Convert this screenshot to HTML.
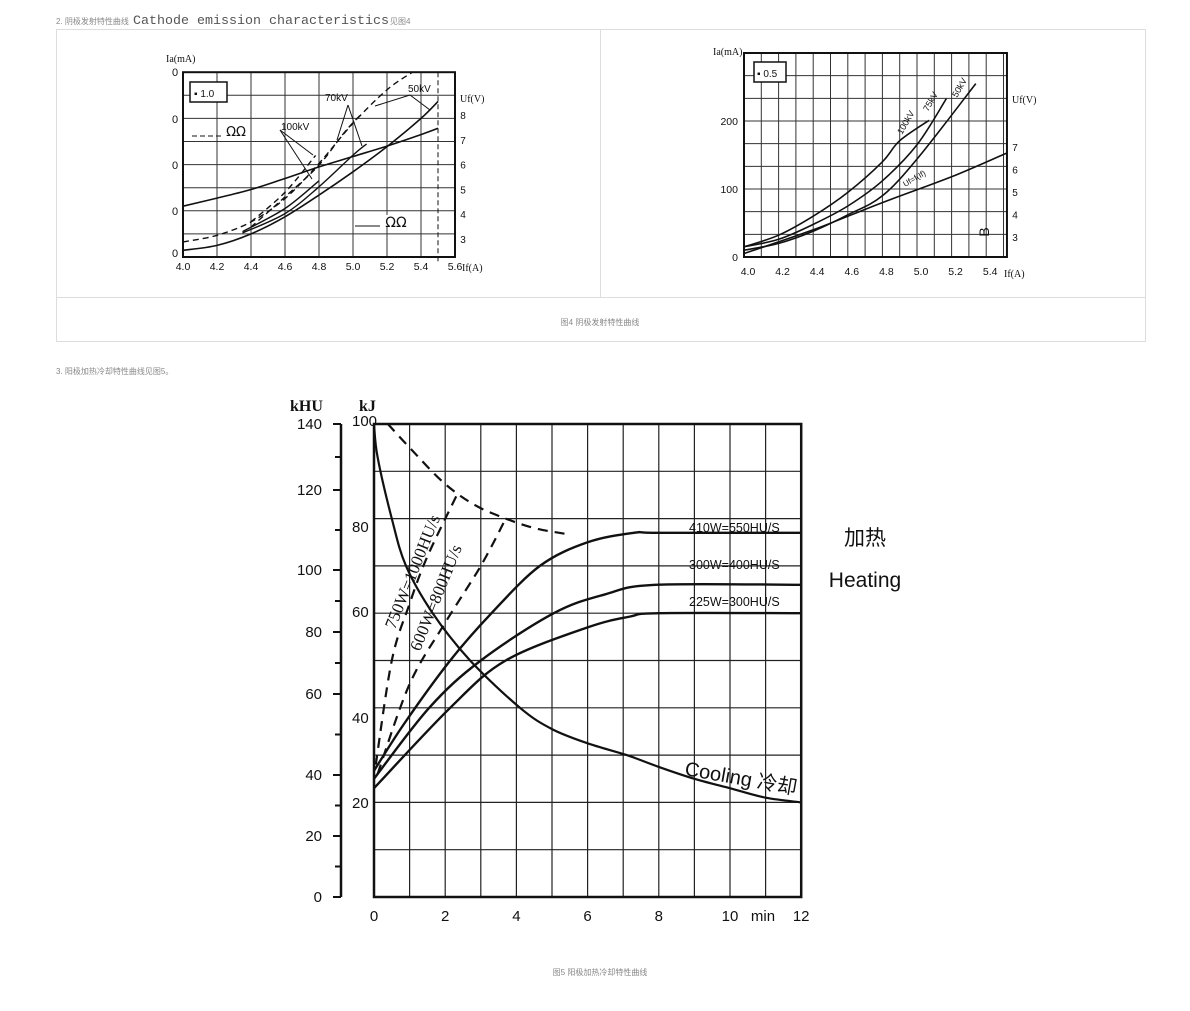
<!DOCTYPE html>
<html><head><meta charset="utf-8">
<style>
html,body{margin:0;padding:0;background:#fff;width:1190px;height:1011px;overflow:hidden;font-family:"Liberation Sans","Noto Sans CJK SC",sans-serif}
svg{position:absolute;left:0;top:0}
</style></head>
<body>
<svg id="s" width="1190" height="1011" viewBox="0 0 1190 1011" xmlns="http://www.w3.org/2000/svg">
<g>
<text x="56" y="24" font-size="8" fill="#888" font-family="Liberation Sans, Noto Sans CJK SC, sans-serif">2.  阴极发射特性曲线</text>
<text x="133" y="24" font-size="13" fill="#555" font-family="Liberation Mono, monospace" textLength="256" lengthAdjust="spacingAndGlyphs">Cathode emission characteristics</text>
<text x="390" y="24" font-size="8" fill="#888" font-family="Liberation Sans, Noto Sans CJK SC, sans-serif">见图4</text>
</g>
<rect x="56.5" y="29.5" width="1089" height="312" fill="none" stroke="#ddd"/>
<line x1="600.5" y1="30" x2="600.5" y2="297" stroke="#ddd"/>
<line x1="56" y1="297.5" x2="1145" y2="297.5" stroke="#ddd"/>
<text x="600" y="325" font-size="8" fill="#888" text-anchor="middle" font-family="Liberation Sans, Noto Sans CJK SC, sans-serif">图4 阴极发射特性曲线</text>
<text x="56" y="374" font-size="8" fill="#888" font-family="Liberation Sans, Noto Sans CJK SC, sans-serif">3.  阳极加热冷却特性曲线见图5。</text>
<text x="600" y="975" font-size="8" fill="#888" text-anchor="middle" font-family="Liberation Sans, Noto Sans CJK SC, sans-serif">图5 阳极加热冷却特性曲线</text>
<g id="c1"></g>
<g id="c2"></g>
<g id="c3"></g>
</svg>
<script>
// ===== Chart 1 data (If in A, y in grid units 0..8) =====
const c1XTicks = [4.0,4.2,4.4,4.6,4.8,5.0,5.2,5.4,5.6];
const c1UfLabels = ["8","7","6","5","4","3"];
const c1Uf_If = [4.0,4.2,4.4,4.6,4.8,5.0,5.2,5.4,5.5];
const c1Uf_y  = [2.2,2.55,2.92,3.4,3.9,4.35,4.8,5.3,5.57];
const c1S50_If = [4.0,4.2,4.4,4.6,4.8,5.0,5.2,5.4,5.5];
const c1S50_y  = [0.29,0.5,1.0,1.74,2.68,3.69,4.78,6.0,6.73];
const c1S70_If = [4.35,4.6,4.8,5.0,5.08];
const c1S70_y  = [1.04,1.88,3.04,4.41,4.89];
const c1S100_If = [4.35,4.6,4.8];
const c1S100_y  = [1.1,2.1,3.3];
const c1D50_If = [4.0,4.2,4.4,4.6,4.8,5.0,5.2,5.35];
const c1D50_y  = [0.65,0.94,1.52,2.53,4.05,5.79,7.24,8.0];
const c1D70_If = [4.4,4.6,4.8,4.95,5.05];
const c1D70_y  = [1.3,2.6,3.98,5.4,6.2];
const c1D100_If = [4.4,4.6,4.78];
const c1D100_y  = [1.52,2.8,4.4];

// ===== Chart 2 data (If in A, Ia in mA) =====
const c2XTicks = [4.0,4.2,4.4,4.6,4.8,5.0,5.2,5.4];
const c2YTicks = [0,100,200];
const c2UfLabels = ["7","6","5","4","3"];
const c2K100_If = [4.0,4.2,4.4,4.6,4.8,4.9,5.07];
const c2K100_Ia = [15,32,60,95,140,171,201];
const c2K75_If = [4.0,4.2,4.4,4.6,4.8,5.0,5.17];
const c2K75_Ia = [15,26,48,75,112,165,233];
const c2K50_If = [4.0,4.2,4.4,4.6,4.8,5.01,5.34];
const c2K50_Ia = [10,20,38,62,90,147,255];
const c2Uf_If = [4.0,4.4,4.8,5.2,5.52];
const c2Uf_Ia = [5,40,80,118,153];

// ===== Chart 3 data (t in min, energy in kJ) =====
const c3XTicks = [0,2,4,6,8,10,12];
const c3kJTicks = [100,80,60,40,20];
const c3kHUTicks = [140,120,100,80,60,40,20,0];
const coolT  = [0,0.1,0.5,0.9,1.65,2.7,4.1,5,6,7.1,8,9,10,11,12];
const coolKJ = [100,93,80,70,60,50,40,35.5,32.5,30,27.5,25,23,21,20];
const h410T  = [0,0.87,2.14,3.3,4.66,6,7.3,8,12];
const h410KJ = [26.7,36.9,50,60,70,75,77,77,77];
const h300T  = [0,1.55,3,5.05,6.5,7.9,12];
const h300KJ = [25,40,50,60,64,66,66];
const h225T  = [0,2.14,3.7,6,7.2,8,12];
const h225KJ = [23,40,50,57,59.3,60,60];
const d750T  = [0.05,0.5,1.0,1.5,2.33];
const d750KJ = [28,50,62,72,85];
const d600T  = [0.1,1.0,2.0,3.0,3.7];
const d600KJ = [26,45,58,70,80];
const dCoolT  = [0.39,1.0,1.94,2.8,3.7,4.5,5.35];
const dCoolKJ = [100,95,87.7,83,80,78,76.8];

const NS="http://www.w3.org/2000/svg";
function mk(parent,tag,attrs){const e=document.createElementNS(NS,tag);for(const k in attrs)e.setAttribute(k,attrs[k]);parent.appendChild(e);return e;}
function txt(parent,x,y,s,size,anchor,extra){const t=mk(parent,'text',Object.assign({x:x,y:y,'font-size':size,'text-anchor':anchor||'start','font-family':'Liberation Sans, Noto Sans CJK SC, sans-serif',fill:'#111'},extra||{}));t.textContent=s;return t;}
function smooth(pts){let d='M'+pts[0][0].toFixed(1)+','+pts[0][1].toFixed(1);for(let i=0;i<pts.length-1;i++){const p0=pts[i-1]||pts[i],p1=pts[i],p2=pts[i+1],p3=pts[i+2]||p2;const c1x=p1[0]+(p2[0]-p0[0])/6,c1y=p1[1]+(p2[1]-p0[1])/6,c2x=p2[0]-(p3[0]-p1[0])/6,c2y=p2[1]-(p3[1]-p1[1])/6;d+=' C'+c1x.toFixed(1)+','+c1y.toFixed(1)+' '+c2x.toFixed(1)+','+c2y.toFixed(1)+' '+p2[0].toFixed(1)+','+p2[1].toFixed(1);}return d;}
function curve(parent,xs,ys,X,Y,w,dash){const pts=xs.map((v,i)=>[X(v),Y(ys[i])]);return mk(parent,'path',{d:smooth(pts),fill:'none',stroke:'#111','stroke-width':w,'stroke-dasharray':dash||'none'});}

// ---------- Chart 1 ----------
(function(){
const g=document.getElementById('c1');
const X=v=>183+(v-4)*170, Y=u=>257-u*23.1;
for(let i=0;i<=8;i++){mk(g,'line',{x1:X(4+i*0.2),y1:Y(0),x2:X(4+i*0.2),y2:Y(8),stroke:'#333','stroke-width':1});}
for(let i=0;i<=8;i++){mk(g,'line',{x1:X(4),y1:Y(i),x2:X(5.6),y2:Y(i),stroke:'#333','stroke-width':1});}
mk(g,'rect',{x:X(4),y:Y(8),width:X(5.6)-X(4),height:Y(0)-Y(8),fill:'none',stroke:'#111','stroke-width':2});
mk(g,'line',{x1:X(5.5),y1:Y(8),x2:X(5.5),y2:Y(0)+6,stroke:'#111','stroke-width':1,'stroke-dasharray':'5,3'});
c1XTicks.forEach(v=>{const t=txt(g,X(v),270,v.toFixed(1),10.5,'middle');});
txt(g,462,271,'If(A)',10,'start',{'font-family':'Liberation Serif, serif'});
txt(g,166,62,'Ia(mA)',10,'start',{'font-family':'Liberation Serif, serif'});
[72,119,165,211,253].forEach(y=>txt(g,175,y+4,'0',11,'middle'));
c1UfLabels.forEach((s,i)=>txt(g,463,119+i*24.8,s,10,'middle'));
txt(g,460,102,'Uf(V)',10,'start',{'font-family':'Liberation Serif, serif'});
const leg=mk(g,'g',{});
mk(leg,'rect',{x:190,y:82,width:37,height:20,fill:'#fff',stroke:'#111','stroke-width':1.5});
txt(leg,194,97,'▪ 1.0',10);
mk(g,'rect',{x:225,y:125,width:24,height:12,fill:'#fff'});
mk(g,'line',{x1:192,y1:136,x2:222,y2:136,stroke:'#111','stroke-dasharray':'5,3'});
txt(g,236,136,'ΩΩ',13,'middle',{'font-family':'DejaVu Sans, sans-serif'});
mk(g,'rect',{x:355,y:215,width:55,height:12,fill:'#fff'});
mk(g,'line',{x1:355,y1:226,x2:380,y2:226,stroke:'#111'});
txt(g,396,227,'ΩΩ',14,'middle',{'font-family':'DejaVu Sans, sans-serif'});
curve(g,c1Uf_If,c1Uf_y,X,Y,1.6);
curve(g,c1S50_If,c1S50_y,X,Y,1.6);
curve(g,c1S70_If,c1S70_y,X,Y,1.4);
curve(g,c1S100_If,c1S100_y,X,Y,1.4);
curve(g,c1D50_If,c1D50_y,X,Y,1.4,'6,4');
curve(g,c1D70_If,c1D70_y,X,Y,1.4,'6,4');
curve(g,c1D100_If,c1D100_y,X,Y,1.4,'6,4');
txt(g,281,130,'100kV',10);txt(g,325,101,'70kV',10);txt(g,408,92,'50kV',10);
[[280,130,313,155],[280,130,312,179],[348,105,337,140],[348,105,362,146],[410,95,375,106],[410,95,430,110]].forEach(a=>mk(g,'line',{x1:a[0],y1:a[1],x2:a[2],y2:a[3],stroke:'#111'}));
})();

// ---------- Chart 2 ----------
(function(){
const g=document.getElementById('c2');
const X=v=>744+(v-4)*173, Y=v=>257-v*0.68;
for(let i=0;i<=15;i++){mk(g,'line',{x1:X(4+i*0.1),y1:Y(0),x2:X(4+i*0.1),y2:Y(300),stroke:'#333','stroke-width':1});}
for(let i=0;i<=9;i++){mk(g,'line',{x1:X(4),y1:Y(i*100/3),x2:X(5.52),y2:Y(i*100/3),stroke:'#333','stroke-width':1});}
mk(g,'rect',{x:X(4),y:Y(300),width:X(5.52)-X(4),height:Y(0)-Y(300),fill:'none',stroke:'#111','stroke-width':2});
c2XTicks.forEach(v=>txt(g,X(v)+4,275,v.toFixed(1),10.5,'middle'));
txt(g,1004,277,'If(A)',10,'start',{'font-family':'Liberation Serif, serif'});
c2YTicks.forEach(v=>txt(g,738,Y(v)+4,String(v),10.5,'end'));
txt(g,713,55,'Ia(mA)',10,'start',{'font-family':'Liberation Serif, serif'});
txt(g,1012,103,'Uf(V)',10,'start',{'font-family':'Liberation Serif, serif'});
c2UfLabels.forEach((s,i)=>txt(g,1015,151+i*22.5,s,10,'middle'));
mk(g,'rect',{x:754,y:62,width:32,height:20,fill:'#fff',stroke:'#111','stroke-width':1.5});
txt(g,757,77,'▪ 0.5',10);
txt(g,985,236,'B',14,'middle',{transform:'rotate(-90 985 232)'});
curve(g,c2K100_If,c2K100_Ia,X,Y,1.6);
curve(g,c2K75_If,c2K75_Ia,X,Y,1.6);
curve(g,c2K50_If,c2K50_Ia,X,Y,1.6);
curve(g,c2Uf_If,c2Uf_Ia,X,Y,1.6);
txt(g,902,135,'100kV',9,'start',{transform:'rotate(-60 902 135)'});
txt(g,928,112,'75kV',9,'start',{transform:'rotate(-60 928 112)'});
txt(g,957,98,'50kV',9,'start',{transform:'rotate(-60 957 98)'});
txt(g,905,187,'Uf=f(If)',8,'start',{transform:'rotate(-30 905 187)'});
})();

// ---------- Chart 3 ----------
(function(){
const g=document.getElementById('c3');
const X=t=>374+t*35.6, Y=kJ=>897-kJ*4.73;
for(let i=0;i<=12;i++){mk(g,'line',{x1:X(i),y1:Y(0),x2:X(i),y2:Y(100),stroke:'#222','stroke-width':1.2});}
for(let i=0;i<=10;i++){mk(g,'line',{x1:X(0),y1:Y(i*10),x2:X(12),y2:Y(i*10),stroke:'#222','stroke-width':1.2});}
mk(g,'rect',{x:X(0),y:Y(100),width:X(12)-X(0),height:Y(0)-Y(100),fill:'none',stroke:'#111','stroke-width':2.5});
mk(g,'line',{x1:341,y1:424,x2:341,y2:897,stroke:'#111','stroke-width':2.5});
const kHUy=[424,490,570,632,694,775,836,897];
c3kHUTicks.forEach((v,i)=>{txt(g,322,kHUy[i]+5,String(v),15,'end');mk(g,'line',{x1:333,y1:kHUy[i],x2:341,y2:kHUy[i],stroke:'#111','stroke-width':2});
 if(i<7){const m=(kHUy[i]+kHUy[i+1])/2;mk(g,'line',{x1:335,y1:m,x2:341,y2:m,stroke:'#111','stroke-width':2});}});
txt(g,290,411,'kHU',16,'start',{'font-weight':'bold','font-family':'Liberation Serif, serif'});
txt(g,359,411,'kJ',16,'start',{'font-weight':'bold','font-family':'Liberation Serif, serif'});
const kJy=[421,527,612,718,803];
c3kJTicks.forEach((v,i)=>txt(g,352,kJy[i]+5,String(v),15,'start'));
c3XTicks.forEach(v=>{const t=txt(g,X(v),921,String(v),15,'middle');});
txt(g,763,921,'min',15,'middle');
curve(g,coolT,coolKJ,X,Y,2.2);
curve(g,h410T,h410KJ,X,Y,2.4);
curve(g,h300T,h300KJ,X,Y,2.4);
curve(g,h225T,h225KJ,X,Y,2.4);
curve(g,d750T,d750KJ,X,Y,2.2,'10,7');
curve(g,d600T,d600KJ,X,Y,2.2,'10,7');
curve(g,dCoolT,dCoolKJ,X,Y,2.2,'10,7');
txt(g,395,630,'750W=1000HU/s',17,'start',{transform:'rotate(-68 395 630)','font-family':'Liberation Serif, serif'});
txt(g,420,652,'600W=800HU/s',17,'start',{transform:'rotate(-68 420 652)','font-family':'Liberation Serif, serif'});
txt(g,689,532,'410W=550HU/S',12.5);
txt(g,689,569,'300W=400HU/S',12.5);
txt(g,689,606,'225W=300HU/S',12.5);
txt(g,865,545,'加热',21,'middle');
txt(g,865,587,'Heating',21,'middle');
txt(g,684,775,'Cooling 冷却',20,'start',{transform:'rotate(10 684 775)'});
})();
</script>
</body></html>
